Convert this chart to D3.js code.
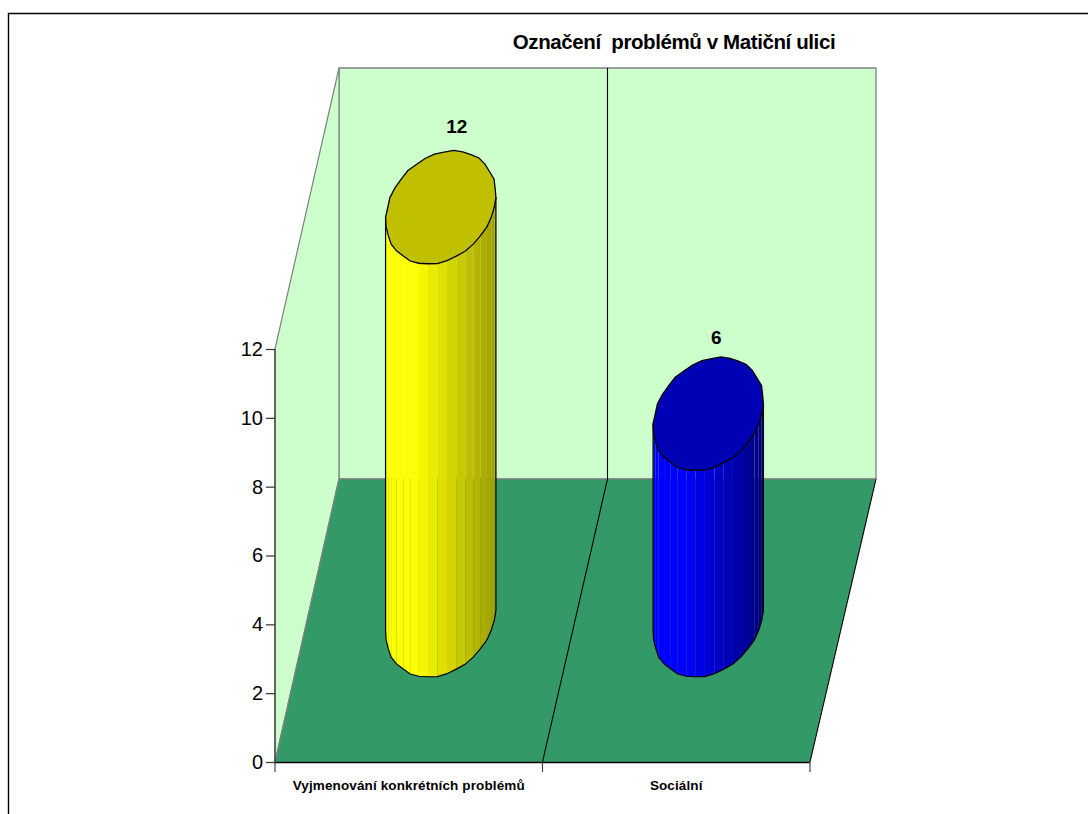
<!DOCTYPE html>
<html>
<head>
<meta charset="utf-8">
<script src="https://cdn.jsdelivr.net/npm/d3@7"></script>
<style>
html,body{margin:0;padding:0;background:#fff}
svg{display:block}
text{font-family:"Liberation Sans",Arial,sans-serif;fill:#000}
</style>
</head>
<body>
<svg id="c" width="1088" height="814"></svg>
<script>
const titleText = "Označení  problémů v Matiční ulici";
const categories = ["Vyjmenování konkrétních problémů", "Sociální"];
const values = [12, 6];
const valueLabels = ["12", "6"];
const yTicks = [0, 2, 4, 6, 8, 10, 12];
const barColors = ["#ffff00", "#0000ff"];
const capColors = ["#c0c000", "#0000b4"];
// irregularity of the hand-faceted cylinder outline
const outlineWobble = [1,1.005,.995,1.01,.99,1,1.01,.995,1,1.008,.992,1.005,1,.992,1.01,.995,1,1.008,.99,1.005,1,.995,1.008,1,.99,1.006,1,.994,1.008,1,.992,1.005,1,.995,1.006,1];

const svg = d3.select("#c");
const x = d3.scaleBand().domain(categories).range([275, 810]);
const y = d3.scaleLinear().domain([0, 12]).range([762, 349]);
const depth = [64, -283];
const backTop = 68;
const labelShift = [[16, -75], [8, -70]];

// frame
svg.append("path").attr("d","M8.5,814V13.5H1088").attr("fill","none").attr("stroke","#000").attr("stroke-width",1.4);

// walls
const x0 = x.range()[0], x1 = x.range()[1];
const bx0 = x0 + depth[0], bx1 = x1 + depth[0] + 2, by = y(0) + depth[1];
svg.append("path").attr("d",`M${bx0},${backTop}H${bx1}V${by}H${bx0}Z`).attr("fill","#ccffcc").attr("stroke","#808080").attr("stroke-width",1.3);
svg.append("path").attr("d",`M${x0},${y(12)}L${bx0},${backTop}V${by}L${x0},${y(0)}Z`).attr("fill","#ccffcc").attr("stroke","#808080").attr("stroke-width",1.2);
// floor
svg.append("path").attr("d",`M${x0},${y(0)}H${x1}L${bx1},${by}H${bx0}Z`).attr("fill","#339966");
svg.append("path").attr("d",`M${x0},${y(0)}L${bx0},${by}`).attr("stroke","#808080").attr("stroke-width",1.2);
svg.append("path").attr("d",`M${x1},${y(0)}L${bx1},${by}`).attr("stroke","#000").attr("stroke-width",1.1);
svg.append("path").attr("d",`M${bx0},${by}H${bx1}`).attr("stroke","#808080").attr("stroke-width",1);
// divider
const xm = x(categories[1]);
svg.append("path").attr("d",`M${xm},${y(0)}L${xm+depth[0]+1},${by}V${backTop}`).attr("fill","none").attr("stroke","#000").attr("stroke-width",1.1);

// cylinders
const R = 0.2;
function outline(cx, cy){
  return outlineWobble.map((w,i)=>{
    const t = i/outlineWobble.length*2*Math.PI;
    const a = R*Math.cos(t), b = R*Math.sin(t);
    return [cx + w*(a*x.bandwidth() + b*depth[0]), cy + w*b*depth[1]];
  });
}
const closed = d3.line().curve(d3.curveLinearClosed);
categories.forEach((cat,k)=>{
  const cx = x(cat) + x.bandwidth()/2 + depth[0]/2;
  const cy = y(0) + depth[1]/2;
  const h = y(0) - y(values[k]);
  const base = outline(cx, cy);
  const xs = base.map(p=>p[0]);
  const xmin = d3.min(xs), xmax = d3.max(xs);
  const g = svg.append("g");
  const rgb = d3.color(barColors[k]);
  const shade = d3.scaleLinear().domain([xmin, xmin+(xmax-xmin)*.28, xmax]).range([1,1,k?0.5:0.62]);

  // lower half of the outline on screen, from the leftmost to the rightmost point
  const n = base.length, leftI = xs.indexOf(xmin), rightI = xs.indexOf(xmax);
  const walk = (from,to)=>{const s=[];let i=from;for(;;){s.push(base[i]);if(i===to)break;i=(i+1)%n;}return s;};
  const pathA = walk(leftI,rightI), pathB = walk(rightI,leftI);
  const lower = (d3.mean(pathA,p=>p[1])>d3.mean(pathB,p=>p[1])?pathA:pathB).slice().sort((a,b)=>a[0]-b[0]);

  // vertical shaded strips
  for(let j=0;j<lower.length-1;j++){
    const a=lower[j], b=lower[j+1];
    const m=Math.max(1,Math.round((b[0]-a[0])/6.5));
    for(let s=0;s<m;s++){
      const u=s/m, v=(s+1)/m;
      const ax=a[0]+(b[0]-a[0])*u, ay=a[1]+(b[1]-a[1])*u;
      const bx=a[0]+(b[0]-a[0])*v, bY=a[1]+(b[1]-a[1])*v;
      const f=shade((ax+bx)/2);
      g.append("path")
        .attr("d",closed([[ax,ay],[bx,bY],[bx,bY-h],[ax,ay-h]]))
        .attr("fill",d3.rgb(rgb.r*f,rgb.g*f,rgb.b*f).formatHex());
    }
  }
  // silhouette and cap
  const sil=[...lower,[xmax,lower[lower.length-1][1]-h],[xmin,lower[0][1]-h]];
  g.append("path").attr("d",closed(sil)).attr("fill","none").attr("stroke","#000").attr("stroke-width",1.2);
  g.append("path").attr("d",closed(base.map(p=>[p[0],p[1]-h]))).attr("fill",capColors[k]).attr("stroke","#000").attr("stroke-width",1.3);
  svg.append("text").attr("x",cx+labelShift[k][0]).attr("y",cy-h+labelShift[k][1])
    .attr("text-anchor","middle").attr("font-size",19).attr("font-weight","bold").text(valueLabels[k]);
});

// y axis
const yAxis = d3.axisLeft(y).tickValues(yTicks).tickSize(9).tickPadding(3).tickFormat(d3.format("d"));
const ga = svg.append("g").attr("transform",`translate(${x0},0)`).call(yAxis);
ga.selectAll("line,path").attr("stroke","#333").attr("stroke-width",1.2);
ga.selectAll("text").attr("font-size",20).attr("font-family",'"Liberation Sans",Arial,sans-serif').attr("fill","#000");
ga.select(".domain").attr("d",`M0,${y(12)}V${y(0)}`);

// x axis
svg.append("line").attr("x1",x0).attr("x2",x1).attr("y1",y(0)+.5).attr("y2",y(0)+.5).attr("stroke","#000").attr("stroke-width",1.4);
[x0,xm,x1].forEach(v=>svg.append("line").attr("x1",v).attr("x2",v).attr("y1",y(0)).attr("y2",y(0)+10).attr("stroke","#444").attr("stroke-width",1.2));
categories.forEach(c=>{
  svg.append("text").attr("x",x(c)+x.bandwidth()/2).attr("y",790).attr("text-anchor","middle")
   .attr("font-size",13.5).attr("font-weight","bold").attr("letter-spacing",0.12).text(c);
});
svg.append("text").attr("x",674).attr("y",49).attr("text-anchor","middle").attr("font-size",20.5).attr("font-weight","bold").attr("letter-spacing",-0.4).style("white-space","pre").text(titleText);
</script>
</body>
</html>
